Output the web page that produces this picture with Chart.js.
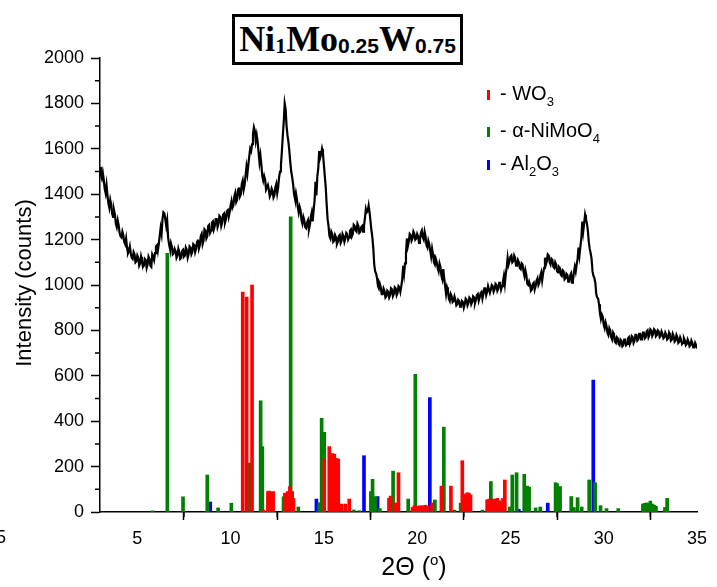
<!DOCTYPE html>
<html><head><meta charset="utf-8">
<script src="https://cdn.jsdelivr.net/npm/chart.js@4/dist/chart.umd.min.js"></script>
<style>
html,body{margin:0;padding:0;background:#fff;}
#wrap{position:relative;width:717px;height:587px;overflow:hidden;background:#fff;}
#c{position:absolute;left:0;top:0;}
.t{position:absolute;font-family:"Liberation Sans",Arial,sans-serif;color:#000;white-space:nowrap;}
#title{position:absolute;left:232px;top:14px;width:225px;height:45px;border:3px solid #000;background:#fff;
  font-family:"Liberation Serif","Times New Roman",serif;font-weight:bold;font-size:36px;line-height:45px;text-align:center;color:#000;white-space:nowrap;}
#title .s1{font-family:"Liberation Serif",serif;font-size:22px;position:relative;top:2px;}
#title .s{font-family:"Liberation Sans",Arial,sans-serif;font-size:21px;position:relative;top:2px;}
.leg{position:absolute;left:487px;font-family:"Liberation Sans",Arial,sans-serif;font-size:20px;line-height:23px;color:#000;white-space:nowrap;}
.leg i{display:inline-block;width:3px;height:10px;margin-right:10px;vertical-align:baseline;}
.leg sub{font-size:13px;vertical-align:baseline;position:relative;top:6px;}
#xt{left:414px;top:552px;transform:translateX(-50%);font-size:25px;line-height:29px;}
#xt sup{font-size:15px;vertical-align:baseline;position:relative;top:-10px;}
#yt{left:23px;top:283px;transform:translate(-50%,-50%) rotate(-90deg);font-size:22px;line-height:25px;}
#stray{left:-4px;top:527px;font-size:18px;line-height:20px;}
</style></head>
<body>
<div id="wrap">
<canvas id="c" width="717" height="587"></canvas>
<div id="title">Ni<span class="s1">1</span>Mo<span class="s">0.25</span>W<span class="s">0.75</span></div>
<div class="leg" style="top:82px"><i style="background:#ff0000"></i>- WO<sub>3</sub></div>
<div class="leg" style="top:119px"><i style="background:#008000"></i>- α-NiMoO<sub>4</sub></div>
<div class="leg" style="top:152px"><i style="background:#0000ff"></i>- Al<sub>2</sub>O<sub>3</sub></div>
<div class="t" id="xt">2Θ (<sup>o</sup>)</div>
<div class="t" id="yt">Intensity (counts)</div>
<div class="t" id="stray">5</div>
</div>
<script>
// XRD pattern: readings at whole 0.1 degree steps (3.0 ... 35.0)
const XRD_START = 3.0;
const XRD_STEP = 0.1;
const xrdCounts = [
1520,1470,1465,1405,1395,1340,1355,1300,1310,1255,1265,
1215,1235,1190,1205,1140,1170,1120,1145,1100,1130,
1085,1125,1080,1115,1075,1125,1085,1135,1110,1170,
1150,1215,1225,1320,1290,1285,1180,1185,1135,1160,
1120,1160,1115,1150,1125,1165,1120,1170,1135,1180,
1145,1190,1160,1215,1180,1245,1205,1260,1230,1275,
1245,1290,1255,1305,1260,1310,1275,1325,1300,1350,
1340,1390,1365,1420,1390,1445,1420,1480,1490,1565,
1590,1665,1680,1660,1585,1570,1480,1480,1420,1440,
1390,1425,1385,1430,1405,1475,1530,1660,1800,1700,
1630,1540,1475,1400,1405,1345,1345,1285,1300,1255,
1275,1245,1300,1280,1370,1395,1515,1560,1600,1530,
1430,1290,1215,1235,1190,1220,1180,1215,1185,1225,
1190,1230,1200,1240,1215,1265,1240,1270,1230,1255,
1235,1295,1320,1350,1280,1210,1090,1050,995,1005,
960,985,945,975,945,985,950,990,955,995,
970,1025,1050,1140,1170,1225,1195,1235,1200,1225,
1185,1230,1210,1235,1175,1195,1150,1160,1100,1115,
1075,1095,1040,1070,995,990,940,960,925,950,
910,935,905,930,900,940,910,945,915,950,
920,955,930,965,940,985,955,995,965,1000,
970,1005,975,1010,980,1015,1005,1075,1090,1125,
1100,1130,1085,1110,1075,1095,1060,1065,1005,1015,
975,1005,980,1020,1000,1040,1020,1075,1090,1135,
1100,1115,1080,1100,1060,1080,1045,1065,1025,1050,
1015,1040,1010,1055,1060,1115,1130,1205,1235,1310,
1270,1190,1140,1060,1030,960,940,875,870,825,
835,790,810,770,790,750,770,740,760,730,
760,735,765,740,775,745,780,755,785,760,
790,765,795,770,805,775,805,775,800,770,
795,765,790,760,790,755,785,750,780,745,
770,740,765,735,760,730,755,725,745,720
];
// readings at the half steps (3.05 ... 34.95)
const xrdCountsHalf = [
1485,1495,1425,1440,1360,1375,1315,1330,1270,1285,
1230,1210,1220,1180,1165,1150,1140,1115,1135,1105,
1120,1095,1105,1085,1110,1090,1115,1080,1125,1140,
1175,1180,1250,1290,1315,1260,1210,1160,1170,1140,
1150,1130,1145,1120,1155,1130,1155,1135,1165,1145,
1175,1160,1200,1175,1225,1195,1240,1215,1265,1240,
1280,1260,1290,1270,1300,1275,1315,1290,1330,1320,
1370,1350,1405,1375,1430,1400,1460,1440,1520,1530,
1600,1620,1695,1635,1630,1540,1530,1460,1465,1420,
1420,1400,1415,1395,1445,1430,1500,1590,1720,1775,
1660,1590,1500,1445,1380,1380,1320,1330,1270,1285,
1250,1285,1265,1320,1330,1455,1480,1590,1575,1580,
1480,1355,1260,1205,1225,1195,1210,1190,1220,1195,
1215,1205,1225,1210,1245,1225,1260,1235,1260,1235,
1260,1260,1335,1325,1320,1240,1160,1060,1030,985,
990,960,975,950,970,955,980,960,985,965,
990,995,1085,1095,1205,1190,1220,1205,1225,1205,
1215,1200,1240,1200,1215,1165,1180,1125,1135,1090,
1100,1060,1080,1025,1030,960,975,930,950,930,
935,915,930,910,925,915,935,920,940,925,
945,935,960,945,970,960,985,970,995,980,
995,980,1000,985,1010,995,1040,1050,1120,1105,
1130,1105,1120,1090,1100,1070,1090,1040,1045,1000,
1000,980,1010,995,1030,1010,1055,1050,1120,1105,
1130,1090,1110,1075,1090,1055,1075,1040,1060,1030,
1045,1015,1050,1020,1080,1090,1165,1170,1280,1270,
1290,1240,1160,1115,1040,1010,945,915,850,860,
810,820,780,800,760,780,745,765,735,755,
735,760,740,770,750,770,755,780,760,785,
765,790,770,800,780,800,785,800,780,795,
775,785,770,780,765,780,760,775,755,770,
750,760,745,755,740,750,735,745,725,735
];

// Reference stick patterns
const wo3Angles = [10.65,10.86,11.15,11.75,12.0,12.07,12.15,12.28,12.91,13.06,13.18,13.3,13.37,
  15.02,15.29,15.43,15.56,15.68,15.77,15.95,16.15,16.36,18.49,18.57,18.85,19.0,
  19.75,19.85,19.95,20.05,20.15,20.25,20.35,20.45,20.55,20.8,21.3,21.81,22.42,
  22.55,22.62,22.7,22.78,22.86,23.75,23.82,23.9,24.0,24.1,24.2,24.3,24.4,24.5,24.6,24.7];
const wo3Intensity = [969,947,1000,8,90,92,88,90,83,90,112,90,60,
  233,288,258,255,236,233,35,35,57,60,70,40,173,
  20,28,25,25,28,25,28,30,25,40,114,114,226,
  75,80,85,82,75,53,55,57,57,55,57,60,50,40,60,141];

const nimoAngles = [5.82,6.61,7.45,8.75,9.33,10.04,11.0,11.61,11.7,12.84,13.22,13.63,14.75,14.88,15.02,
  16.61,16.9,17.52,17.61,17.74,18.0,18.71,19.52,19.9,20.95,21.43,22.0,22.33,23.5,23.95,
  24.97,25.1,25.33,25.74,25.9,26.0,26.35,26.6,27.42,27.5,27.66,28.26,28.4,28.6,28.82,
  29.22,29.54,29.83,30.15,30.78,32.1,32.2,32.3,32.4,32.5,32.6,32.7,32.8,33.28,33.4];
const nimoIntensity = [5,1140,67,163,18,39,216,490,288,67,1300,22,41,413,351,
  9,6,90,144,68,15,180,57,606,53,374,8,39,8,134,
  22,163,173,166,114,110,18,22,129,125,112,68,20,63,22,
  141,129,28,15,15,35,38,40,38,48,35,30,25,20,60];

const aloAngles = [8.91,14.6,17.15,17.88,20.68,25.45,27.0,29.44];
const aloIntensity = [44,57,248,68,504,12,39,581];

const xTickValues = [5,10,15,20,25,30,35];
const xMinorValues = [7.5,12.5,17.5,22.5,27.5,32.5];
const yTickValues = [0,200,400,600,800,1000,1200,1400,1600,1800,2000];
const yMinorValues = [100,300,500,700,900,1100,1300,1500,1700,1900];

const xrdPoints = [];
xrdCounts.forEach((v,i)=>{
  const a = XRD_START + i*XRD_STEP;
  xrdPoints.push({x:+a.toFixed(2), y:v});
  if (i < xrdCountsHalf.length) xrdPoints.push({x:+(a + XRD_STEP/2).toFixed(2), y:xrdCountsHalf[i]});
});
const pts = (a,b)=>a.map((x,i)=>({x, y:b[i]}));

const minorTicks = {
  id:'minorTicks',
  afterDraw(c){
    const ctx=c.ctx, xs=c.scales.x, ys=c.scales.y;
    ctx.save();
    ctx.strokeStyle='#000'; ctx.lineWidth=1.5;
    ctx.beginPath();
    xMinorValues.forEach(v=>{const p=xs.getPixelForValue(v); ctx.moveTo(p, ys.bottom); ctx.lineTo(p, ys.bottom+5);});
    yMinorValues.forEach(v=>{const p=ys.getPixelForValue(v); ctx.moveTo(xs.left, p); ctx.lineTo(xs.left-5, p);});
    ctx.stroke();
    ctx.restore();
  }
};

new Chart(document.getElementById('c'), {
  type:'bar',
  data:{datasets:[
    {type:'line', label:'XRD', data:xrdPoints, borderColor:'#000', borderWidth:2.2, pointRadius:0, tension:0, order:0},
    {label:'WO3', data:pts(wo3Angles,wo3Intensity), backgroundColor:'#ff0000', order:1},
    {label:'NiMoO4', data:pts(nimoAngles,nimoIntensity), backgroundColor:'#008000', order:2},
    {label:'Al2O3', data:pts(aloAngles,aloIntensity), backgroundColor:'#0000ff', order:3}
  ]},
  options:{
    responsive:false, animation:false, devicePixelRatio:1,
    layout:{padding:{top:58,right:20,left:0,bottom:0}},
    plugins:{legend:{display:false}, tooltip:{enabled:false}, title:{display:false}},
    datasets:{bar:{grouped:false, barThickness:3}},
    scales:{
      x:{type:'linear', min:3, max:35, offset:false,
        afterFit(s){s.height=75;},
        afterBuildTicks(s){s.ticks=xTickValues.map(v=>({value:v}));},
        grid:{drawOnChartArea:false, tickLength:8, tickColor:'#000', tickWidth:1.5},
        border:{color:'#000', width:1.5},
        ticks:{color:'#000', font:{family:'Liberation Sans', size:18}, padding:8, maxRotation:0, autoSkip:false, callback:v=>String(v)}
      },
      y:{type:'linear', min:0, max:2000,
        afterFit(s){s.width=100;},
        afterBuildTicks(s){s.ticks=yTickValues.map(v=>({value:v}));},
        grid:{drawOnChartArea:false, tickLength:9, tickColor:'#000', tickWidth:1.5},
        border:{color:'#000', width:1.5},
        ticks:{color:'#000', font:{family:'Liberation Sans', size:18}, padding:7, autoSkip:false, callback:v=>String(v)}
      }
    }
  },
  plugins:[minorTicks]
});
</script>
</body></html>
